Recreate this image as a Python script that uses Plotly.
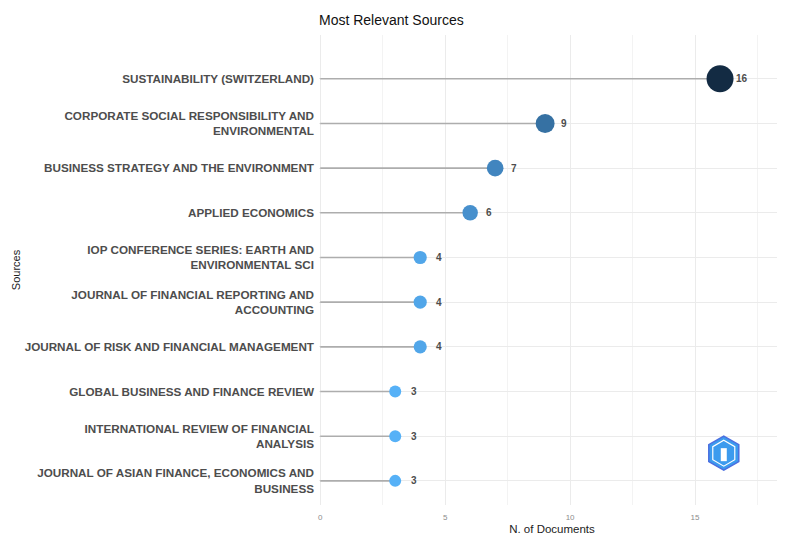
import plotly.graph_objects as go

# sources from top to bottom, with number of documents
sources = [
    "SUSTAINABILITY (SWITZERLAND)",
    "CORPORATE SOCIAL RESPONSIBILITY AND<br>ENVIRONMENTAL",
    "BUSINESS STRATEGY AND THE ENVIRONMENT",
    "APPLIED ECONOMICS",
    "IOP CONFERENCE SERIES: EARTH AND<br>ENVIRONMENTAL SCI",
    "JOURNAL OF FINANCIAL REPORTING AND<br>ACCOUNTING",
    "JOURNAL OF RISK AND FINANCIAL MANAGEMENT",
    "GLOBAL BUSINESS AND FINANCE REVIEW",
    "INTERNATIONAL REVIEW OF FINANCIAL<br>ANALYSIS",
    "JOURNAL OF ASIAN FINANCE, ECONOMICS AND<br>BUSINESS",
]
n_docs = [16, 9, 7, 6, 4, 4, 4, 3, 3, 3]

# plot bottom-up so the first source sits at the top
src = sources[::-1]
vals = n_docs[::-1]
pos = list(range(len(src)))

lo, hi = min(vals), max(vals)
# dot diameter grows with the count (about 12px .. 27px)
dot_size = [12 + (v - lo) * 15 / (hi - lo) for v in vals]

fig = go.Figure()

# stems
seg_x, seg_y = [], []
for p, v in zip(pos, vals):
    seg_x += [0, v, None]
    seg_y += [p, p, None]
fig.add_trace(go.Scatter(x=seg_x, y=seg_y, mode="lines",
                         line=dict(color="#ADADAD", width=1.6),
                         hoverinfo="skip", showlegend=False))

# dots
fig.add_trace(go.Scatter(
    x=vals, y=pos, mode="markers",
    marker=dict(
        size=dot_size, opacity=1,
        color=vals, cmin=lo, cmax=hi,
        colorscale=[[0, "#56B1F7"], [0.3, "#4286C0"], [0.5, "#336C9C"],
                    [0.75, "#22496D"], [1, "#132B43"]],
        line=dict(width=0),
    ),
    showlegend=False,
))

# value labels
for p, v in zip(pos, vals):
    fig.add_annotation(x=v, y=p, text="<b>%d</b>" % v, showarrow=False,
                       xanchor="left", xshift=14,
                       font=dict(size=10, color="#4D4D4D"))

# bibliometrix-ish logo
fig.add_shape(type="path", xref="x", yref="y", xsizemode="pixel", ysizemode="pixel",
              xanchor=16.15, yanchor=0.62,
              path="M 0 17 L 15 8.5 L 15 -8.5 L 0 -17 L -15 -8.5 L -15 8.5 Z",
              fillcolor="#3C9BEE", line=dict(color="#4B6FE0", width=1.5), layer="above")
fig.add_shape(type="path", xref="x", yref="y", xsizemode="pixel", ysizemode="pixel",
              xanchor=16.15, yanchor=0.62,
              path="M 0 13 L 11 6.5 L 11 -6.5 L 0 -13 L -11 -6.5 L -11 6.5 Z",
              fillcolor="rgba(0,0,0,0)", line=dict(color="white", width=1.2), layer="above")
fig.add_shape(type="path", xref="x", yref="y", xsizemode="pixel", ysizemode="pixel",
              xanchor=16.15, yanchor=0.62,
              path="M -3 5 L 3 5 L 3 -8 L -3 -8 Z",
              fillcolor="white", line=dict(width=0), layer="above")

# page body has an 8px margin, so the figure is 777x528
fig.update_layout(
    width=777, height=528,
    margin=dict(l=311, r=0, t=27, b=31),
    paper_bgcolor="white", plot_bgcolor="white",
    font=dict(family="Liberation Sans, Arial, sans-serif", color="#333333"),
    title=dict(text="Most Relevant Sources", x=311 / 777, xanchor="left",
               y=1 - 12 / 528, yanchor="middle",
               font=dict(size=14, color="#111111")),
    xaxis=dict(range=[-0.05, 18.6], tickvals=[0, 5, 10, 15], automargin=False,
               showgrid=True, gridcolor="#EBEBEB", gridwidth=1,
               minor=dict(dtick=2.5, tick0=0, showgrid=True, gridcolor="#F3F3F3", gridwidth=1),
               zeroline=False, showline=False, ticks="", ticklabelstandoff=6,
               tickfont=dict(size=8, color="#8C8C8C"),
               title=dict(text="N. of Documents", standoff=3,
                          font=dict(size=11.5, color="#222222"))),
    yaxis=dict(range=[-0.54, 9.98], tickvals=pos, ticktext=src, automargin=False,
               showgrid=True, gridcolor="#EBEBEB", gridwidth=1,
               zeroline=False, showline=False, ticks="", ticklabelstandoff=4,
               tickfont=dict(size=11.7, color="#4D4D4D", weight="bold"),
               title=dict(text="Sources", standoff=1,
                          font=dict(size=11, color="#222222"))),
)

fig.write_html("out.html")
